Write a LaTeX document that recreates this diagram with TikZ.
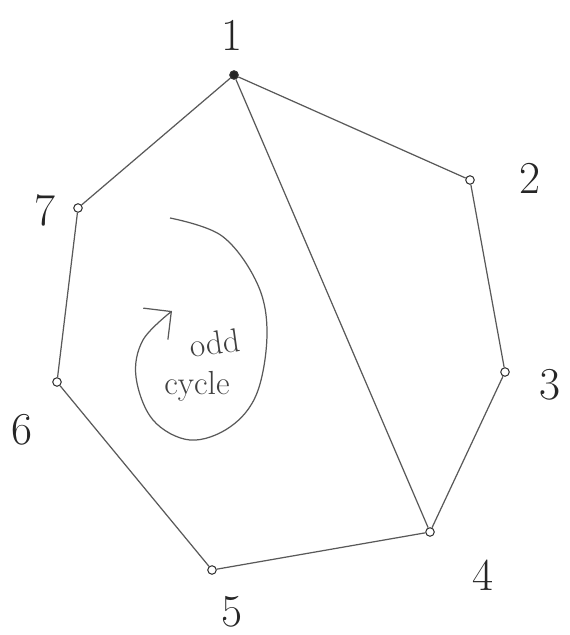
\documentclass[tikz,border=0pt]{standalone}
\usetikzlibrary{arrows.meta}
\tikzset{
  vert/.style={circle, draw=black!80, fill=white, inner sep=0pt,
    minimum size=0.17cm, line width=0.6pt},
  root/.style={vert, fill=black!85},
  side/.style={draw=black!65, line width=0.7pt},
  vlabel/.style={font=\fontsize{26}{30}\selectfont, text=black!85},
  note/.style={font=\fontsize{19}{22}\selectfont, text=black!75},
}
\begin{document}
\begin{tikzpicture}[x=0.02cm, y=-0.02cm]
  \useasboundingbox (0,0) rectangle (570,635);

  % the seven vertices
  \node[root] (v1) at (234,75)  {};
  \node[vert] (v2) at (470,180) {};
  \node[vert] (v3) at (505,372) {};
  \node[vert] (v4) at (430,532) {};
  \node[vert] (v5) at (212,570) {};
  \node[vert] (v6) at (57,382)  {};
  \node[vert] (v7) at (78,208)  {};

  % labels
  \node[vlabel] (l1) at (232,35)  {1};
  \node[vlabel] (l2) at (530,178) {2};
  \node[vlabel] (l3) at (550,385) {3};
  \node[vlabel] (l4) at (483,575) {4};
  \node[vlabel] (l5) at (232,612) {5};
  \node[vlabel] (l6) at (22,430)  {6};
  \node[vlabel] (l7) at (45,210)  {7};

  % edges
  \draw[side] (v1) -- (v2) -- (v3) -- (v4) -- (v5) -- (v6) -- (v7) -- (v1);
  \draw[side] (v1) -- (v4);

  % odd cycle annotation
  \node[note, rotate=8] (odd) at (215,343) {odd};
  \node[note] (cyc) at (197,386) {cycle};
  \coordinate (tip) at (172,311);
  \draw[side, -{Straight Barb[length=4mm, width=8mm]}]
    plot[smooth, tension=0.6] coordinates {(170,218) (222,236) (257,283) (267,333)
      (257,393) (230,427) (190,440) (153,420) (136,377) (143,340) (tip)};
\end{tikzpicture}
\end{document}
